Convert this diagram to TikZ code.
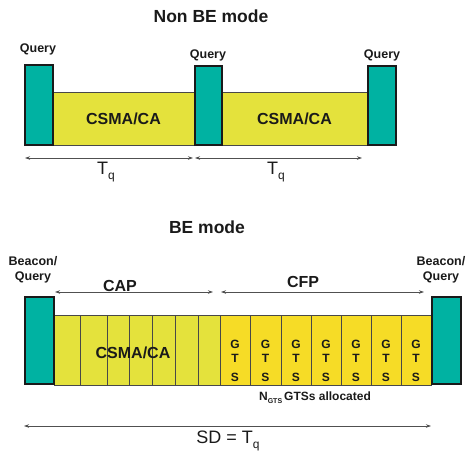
\documentclass[tikz,border=0pt]{standalone}
\usepackage{fontspec}
\setmainfont{Liberation Sans}
\usetikzlibrary{arrows.meta,calc}
\definecolor{tealq}{HTML}{00B2A2}
\definecolor{yelc}{HTML}{E4E23C}
\definecolor{yelg}{HTML}{F6DC26}
\definecolor{ink}{HTML}{1A1A1A}
\definecolor{arrgray}{HTML}{505050}
\newcommand{\lowsub}[2]{#1\raisebox{-0.45ex}{\fontsize{#2}{#2}\selectfont q}}
\begin{document}
\begin{tikzpicture}[x=1pt,y=-1pt,
  qbox/.style={draw=ink,line width=2pt,fill=tealq,inner sep=0pt,outer sep=0pt,anchor=north west},
  ybox/.style={draw=ink!80,line width=0.8pt,fill=yelc,inner sep=0pt,outer sep=0pt,anchor=north west},
  gbox/.style={draw=ink!80,line width=0.8pt,fill=yelg,inner sep=0pt,outer sep=0pt,anchor=north west},
  title/.style={font=\fontsize{17.5}{20}\selectfont\bfseries,text=ink,inner sep=0pt},
  qlbl/.style={font=\fontsize{12.5}{15}\selectfont\bfseries,text=ink,inner sep=0pt,align=center},
  blbl/.style={font=\fontsize{16}{18}\selectfont\bfseries,text=ink,inner sep=0pt},
  glbl/.style={font=\fontsize{12}{14}\selectfont\bfseries,text=ink,inner sep=0pt},
  tlbl/.style={font=\fontsize{18}{20}\selectfont,text=ink,inner sep=0pt},
  dimarrow/.style={draw=arrgray,line width=0.7pt,{Stealth[length=5pt,width=3.5pt]}-{Stealth[length=5pt,width=3.5pt]}}
]
\useasboundingbox (0,0) rectangle (467,456);

% ---------- Non BE mode ----------
\node[title] (t1) at (211,16) {Non BE mode};

\node[ybox,minimum width=141pt,minimum height=53pt] (c1) at (53,92) {};
\node[ybox,minimum width=145pt,minimum height=53pt] (c2) at (222,92) {};
\node[qbox,minimum width=28pt,minimum height=80pt] (q1) at (25,65) {};
\node[qbox,minimum width=27pt,minimum height=79pt] (q2) at (195,66) {};
\node[qbox,minimum width=28pt,minimum height=79pt] (q3) at (368,66) {};

\node[blbl] (c1t) at (c1.center) {CSMA/CA};
\node[blbl] (c2t) at (c2.center) {CSMA/CA};

\node[qlbl] (q1l) at (38,49) {Query};
\node[qlbl] (q2l) at (208,55) {Query};
\node[qlbl] (q3l) at (382,55) {Query};

\coordinate (a1s) at (25,158);
\coordinate (a1e) at (193,158);
\coordinate (a2s) at (195,158);
\coordinate (a2e) at (362,158);
\draw[dimarrow] (a1s) -- (a1e);
\draw[dimarrow] (a2s) -- (a2e);
\node[tlbl] (tq1) at (106,172) {\lowsub{T}{12}};
\node[tlbl] (tq2) at (276,172) {\lowsub{T}{12}};

% ---------- BE mode ----------
\node[title] (t2) at (207,227) {BE mode};

\node[qlbl] (b1l) at (33,270) {Beacon/\\Query};
\node[qlbl] (b2l) at (441,270) {Beacon/\\Query};

% CSMA slots
\foreach \xa/\xb [count=\i] in {54/80,80/107,107/129,129/152,152/175,175/198,198/220}{
  \pgfmathsetmacro{\w}{\xb-\xa}
  \node[ybox,minimum width=\w pt,minimum height=70pt] (s\i) at (\xa,315) {};
}
% GTS slots
\foreach \xa/\xb [count=\i] in {220/250,250/281,281/311,311/341,341/371,371/401,401/431}{
  \pgfmathsetmacro{\w}{\xb-\xa}
  \node[gbox,minimum width=\w pt,minimum height=70pt] (g\i) at (\xa,315) {};
  \node[glbl] (gG\i) at ($(g\i.north)+(0,29)$) {G};
  \node[glbl] (gT\i) at ($(g\i.north)+(0,43)$) {T};
  \node[glbl] (gS\i) at ($(g\i.north)+(0,62)$) {S};
}
\node[qbox,minimum width=29pt,minimum height=87pt] (b1) at (25,297) {};
\node[qbox,minimum width=29pt,minimum height=87pt] (b2) at (432,297) {};

\node[blbl] (bcs) at (133,353) {CSMA/CA};
\node[glbl] (ngts) at (315,398) {N\raisebox{-0.5ex}{\fontsize{7}{7}\selectfont GTS}\,GTSs allocated};

\coordinate (caps) at (55,292);
\coordinate (cape) at (213,292);
\coordinate (cfps) at (221,292);
\coordinate (cfpe) at (424,292);
\draw[dimarrow] (caps) -- (cape);
\draw[dimarrow] (cfps) -- (cfpe);
\node[blbl] (capl) at (120,286) {CAP};
\node[blbl] (cfpl) at (303,282) {CFP};

\coordinate (sds) at (24,426);
\coordinate (sde) at (431,426);
\draw[dimarrow] (sds) -- (sde);
\node[tlbl] (sdl) at (228,441) {SD = \lowsub{T}{12}};
\end{tikzpicture}
\end{document}
